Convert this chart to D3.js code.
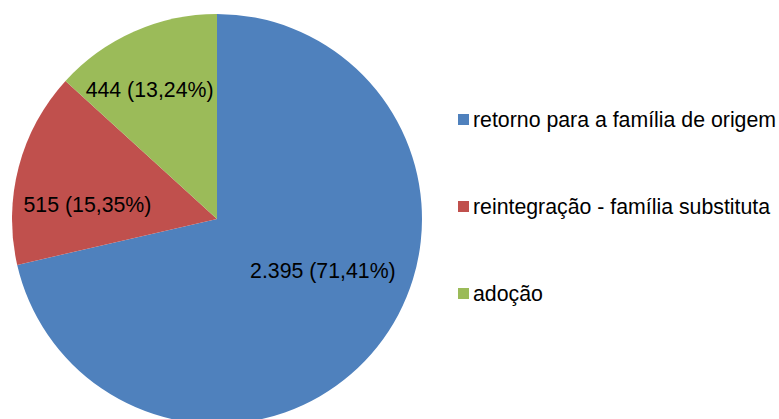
<!DOCTYPE html>
<html lang="pt">
  <head>
    <meta charset='utf-8'>
    <script src='https://d3js.org/d3.v7.min.js'></script>
    <title>Desligamentos</title>
    <style>
      body { margin: 0px; background: #fff; }
      text { font-family: 'Liberation Sans', Arial, sans-serif; fill: #000; }
      .slice-label { font-size: 21.3px; }
      .legend-label { font-size: 21.3px; }
    </style>
  </head>
  <body>
    <div id='viz'></div>
    <script>

      // data
      const categories = ['retorno para a família de origem', 'reintegração - família substituta', 'adoção'];
      const values = [2395, 515, 444];
      const percentLabels = ['71,41%', '15,35%', '13,24%'];
      const valueLabels = ['2.395', '515', '444'];
      const colors = ['#4F81BD', '#C0504D', '#9BBB59'];

      // where Excel put each label: fraction along the slice, fraction of radius
      const labelPlacement = [
        { t: 0.45, r: 0.573 },
        { t: 0.35, r: 0.636 },
        { t: 0.423, r: 0.712 }
      ];

      const width = 779, height = 419;
      const cx = 217, cy = 219, radius = 205;

      const svg = d3.select('#viz').append('svg')
        .attr('width', width)
        .attr('height', height);

      const pie = d3.pie().sort(null).value(d => d);
      const arcs = pie(values);
      const arc = d3.arc().innerRadius(0).outerRadius(radius);

      const g = svg.append('g').attr('transform', `translate(${cx},${cy})`);

      g.selectAll('path').data(arcs).enter().append('path')
        .attr('d', arc)
        .attr('fill', (d, i) => colors[i]);

      // labels
      g.selectAll('.slice-label').data(arcs).enter().append('text')
        .attr('class', 'slice-label')
        .attr('text-anchor', 'middle')
        .attr('dy', '0.36em')
        .attr('transform', (d, i) => {
          const p = labelPlacement[i];
          const a = d.startAngle + (d.endAngle - d.startAngle) * p.t;
          const r = radius * p.r;
          return `translate(${Math.sin(a) * r},${-Math.cos(a) * r})`;
        })
        .text((d, i) => `${valueLabels[i]} (${percentLabels[i]})`);

      // legend
      const legendY = d3.scalePoint().domain(categories).range([119, 293]);

      const legend = svg.append('g');
      const items = legend.selectAll('g').data(categories).enter().append('g')
        .attr('transform', d => `translate(458,${legendY(d)})`);

      items.append('rect')
        .attr('x', 0)
        .attr('y', -5)
        .attr('width', 11)
        .attr('height', 11)
        .attr('fill', (d, i) => colors[i]);

      items.append('text')
        .attr('class', 'legend-label')
        .attr('x', 15)
        .attr('dy', '0.36em')
        .text(d => d);

    </script>
  </body>
</html>
